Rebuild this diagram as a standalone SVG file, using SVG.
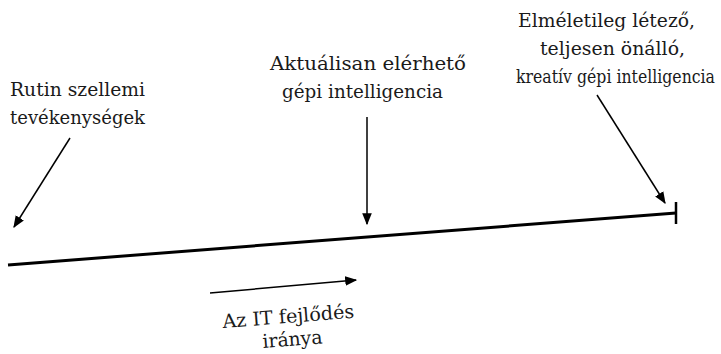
<svg xmlns="http://www.w3.org/2000/svg" width="721" height="354" viewBox="0 0 721 354">
<defs>
<marker id="ah2" viewBox="0 0 10 10" refX="9" refY="5" markerWidth="12" markerHeight="12" markerUnits="userSpaceOnUse" orient="auto">
<path d="M0,1 L10,5 L0,9 z" fill="#000"/>
</marker>
</defs>
<style>
.t{font-family:'DejaVu Serif','Liberation Serif',serif;font-size:19px;fill:#1a1a1a}
.a{stroke:#000;stroke-width:1.5;fill:none;marker-end:url(#ah2)}
</style>
<rect width="721" height="354" fill="#fff"/>
<g id="connectors">
<line x1="8" y1="265" x2="676" y2="213" stroke="#000" stroke-width="3"/>
<line x1="676" y1="202" x2="676" y2="224" stroke="#000" stroke-width="2.5"/>
<line class="a" x1="70" y1="138" x2="14" y2="227"/>
<line class="a" x1="367" y1="117" x2="367" y2="224"/>
<line class="a" x1="597" y1="95" x2="665" y2="203"/>
<line class="a" x1="210" y1="293" x2="356" y2="280"/>
</g>
<g id="rutin" class="t">
<text x="10" y="96" textLength="135" lengthAdjust="spacingAndGlyphs">Rutin szellemi</text>
<text x="10" y="124" textLength="135" lengthAdjust="spacingAndGlyphs">tevékenységek</text>
</g>
<g id="aktualis" class="t">
<text x="270" y="70" textLength="196" lengthAdjust="spacingAndGlyphs">Aktuálisan elérhető</text>
<text x="282" y="98" textLength="161" lengthAdjust="spacingAndGlyphs">gépi intelligencia</text>
</g>
<g id="elmeleti" class="t">
<text x="518" y="27" textLength="177" lengthAdjust="spacingAndGlyphs">Elméletileg létező,</text>
<text x="540" y="55" textLength="145" lengthAdjust="spacingAndGlyphs">teljesen önálló,</text>
<text x="715" y="83" text-anchor="end" textLength="199" lengthAdjust="spacingAndGlyphs">kreatív gépi intelligencia</text>
</g>
<g id="irany" class="t">
<text x="223" y="328" transform="rotate(-4.5 223 328)" textLength="132" lengthAdjust="spacingAndGlyphs">Az IT fejlődés</text>
<text x="263" y="348" transform="rotate(-4.5 263 348)" textLength="60" lengthAdjust="spacingAndGlyphs">iránya</text>
</g>
</svg>
